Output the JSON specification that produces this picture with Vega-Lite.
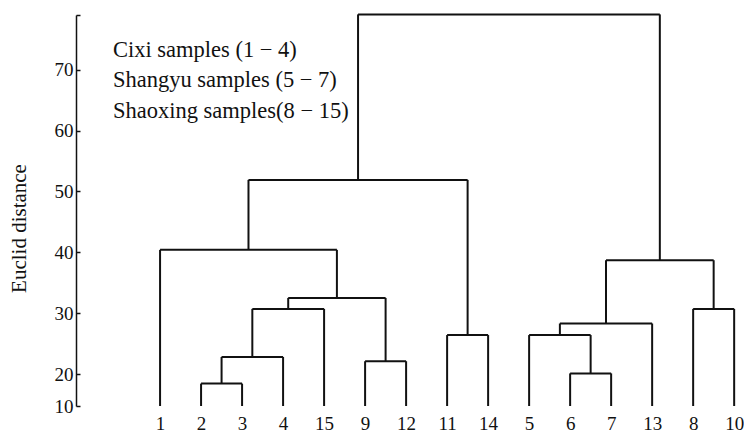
{
  "$schema": "https://vega.github.io/schema/vega-lite/v6.json",
  "width": 668,
  "height": 391,
  "autosize": "none",
  "padding": {"left": 76, "top": 15, "right": 0, "bottom": 28},
  "background": "white",
  "config": {
    "view": {"stroke": null},
    "font": "Liberation Serif",
    "axis": {"labelFont": "Liberation Serif", "titleFont": "Liberation Serif", "labelColor": "#111", "titleColor": "#111"}
  },
  "datasets": {
    "merges": [
      {"xl": 1, "xr": 2, "hl": 10, "hr": 10, "h": 17.0},
      {"xl": 1.5, "xr": 3, "hl": 17.0, "hr": 10, "h": 22.8},
      {"xl": 2.25, "xr": 4, "hl": 22.8, "hr": 10, "h": 30.7},
      {"xl": 5, "xr": 6, "hl": 10, "hr": 10, "h": 22.1},
      {"xl": 3.125, "xr": 5.5, "hl": 30.7, "hr": 22.1, "h": 32.5},
      {"xl": 0, "xr": 4.3125, "hl": 10, "hr": 32.5, "h": 40.4},
      {"xl": 7, "xr": 8, "hl": 10, "hr": 10, "h": 26.4},
      {"xl": 2.15625, "xr": 7.5, "hl": 40.4, "hr": 26.4, "h": 51.9},
      {"xl": 10, "xr": 11, "hl": 10, "hr": 10, "h": 20.1},
      {"xl": 9, "xr": 10.5, "hl": 10, "hr": 20.1, "h": 26.4},
      {"xl": 9.75, "xr": 12, "hl": 26.4, "hr": 10, "h": 28.3},
      {"xl": 13, "xr": 14, "hl": 10, "hr": 10, "h": 30.7},
      {"xl": 10.875, "xr": 13.5, "hl": 28.3, "hr": 30.7, "h": 38.7},
      {"xl": 4.828125, "xr": 12.1875, "hl": 51.9, "hr": 38.7, "h": 79.1}
    ],
    "notes": [
      {"label": "Cixi samples (1 − 4)", "x": -1.15, "y": 72.1},
      {"label": "Shangyu samples (5 − 7)", "x": -1.15, "y": 67.1},
      {"label": "Shaoxing samples(8 − 15)", "x": -1.15, "y": 62.1}
    ]
  },
  "layer": [
    {
      "data": {"name": "merges"},
      "mark": {"type": "rule", "color": "#111", "strokeWidth": 2},
      "encoding": {
        "x": {"field": "xl", "type": "quantitative",
          "scale": {"domain": [-2.05, 14.24], "nice": false, "zero": false},
          "axis": {"title": null, "domain": false, "ticks": false, "grid": false,
            "values": [0,1,2,3,4,5,6,7,8,9,10,11,12,13,14],
            "labelExpr": "['1','2','3','4','15','9','12','11','14','5','6','7','13','8','10'][datum.value]",
            "labelFontSize": 19, "labelPadding": 8, "labelFlush": false, "labelOverlap": false}},
        "y": {"field": "hl", "type": "quantitative",
          "scale": {"domain": [10, 20, 79], "range": [391, 359, 0], "nice": false, "zero": false},
          "axis": {"title": "Euclid distance", "grid": false,
            "values": [10,20,30,40,50,60,70,79],
            "labelExpr": "datum.value > 75 ? '' : datum.label",
            "labelFontSize": 19, "labelPadding": 7,
            "domainColor": "#111", "domainWidth": 1.5, "tickColor": "#111", "tickWidth": 1.5, "tickSize": -4,
            "titleFontSize": 21, "titleFontWeight": "normal",
            "titleX": -57, "titleY": 213, "titleAlign": "center", "titleBaseline": "middle", "titleAngle": -90}},
        "y2": {"field": "h"}
      }
    },
    {
      "data": {"name": "merges"},
      "mark": {"type": "rule", "color": "#111", "strokeWidth": 2},
      "encoding": {
        "x": {"field": "xr", "type": "quantitative"},
        "y": {"field": "hr", "type": "quantitative"},
        "y2": {"field": "h"}
      }
    },
    {
      "data": {"name": "merges"},
      "mark": {"type": "rule", "color": "#111", "strokeWidth": 2},
      "encoding": {
        "x": {"field": "xl", "type": "quantitative"},
        "x2": {"field": "xr"},
        "y": {"field": "h", "type": "quantitative"}
      }
    },
    {
      "data": {"name": "notes"},
      "mark": {"type": "text", "align": "left", "baseline": "alphabetic", "fontSize": 22.5, "font": "Liberation Serif", "color": "#111"},
      "encoding": {
        "x": {"field": "x", "type": "quantitative"},
        "y": {"field": "y", "type": "quantitative"},
        "text": {"field": "label"}
      }
    }
  ]
}
